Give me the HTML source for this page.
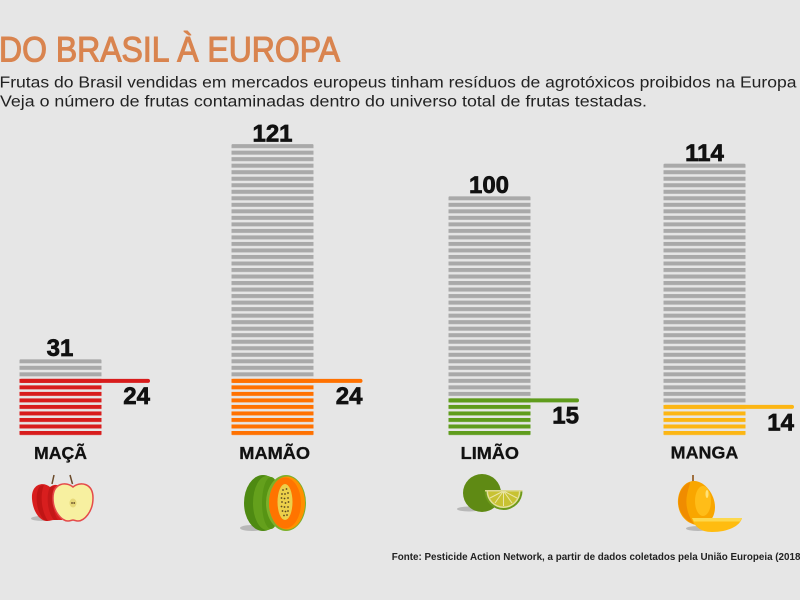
<!DOCTYPE html>
<html>
<head>
<meta charset="utf-8">
<style>
  html,body{margin:0;padding:0;background:#e6e6e6;}
  svg{display:block;}
  text{font-family:"Liberation Sans", sans-serif;}
</style>
</head>
<body>
<svg width="800" height="600" viewBox="0 0 800 600" xmlns="http://www.w3.org/2000/svg">
  <defs>
    <pattern id="pg" patternUnits="userSpaceOnUse" x="0" y="431" width="800" height="6.52">
      <rect x="0" y="0" width="800" height="4" fill="#a9a9a9"/>
    </pattern>
    <pattern id="pr" patternUnits="userSpaceOnUse" x="0" y="431" width="800" height="6.52">
      <rect x="0" y="0" width="800" height="4" fill="#d81c1c"/>
    </pattern>
    <pattern id="po" patternUnits="userSpaceOnUse" x="0" y="431" width="800" height="6.52">
      <rect x="0" y="0" width="800" height="4" fill="#ff7100"/>
    </pattern>
    <pattern id="pgr" patternUnits="userSpaceOnUse" x="0" y="431" width="800" height="6.52">
      <rect x="0" y="0" width="800" height="4" fill="#5f9c1c"/>
    </pattern>
    <pattern id="py" patternUnits="userSpaceOnUse" x="0" y="431" width="800" height="6.52">
      <rect x="0" y="0" width="800" height="4" fill="#fcb614"/>
    </pattern>
  </defs>

  <rect x="0" y="0" width="800" height="600" fill="#e6e6e6"/>

  <!-- Title -->
  <text x="-1" y="61.5" font-size="35" fill="#d9844f" stroke="#d9844f" stroke-width="1.1" textLength="341" lengthAdjust="spacingAndGlyphs">DO BRASIL À EUROPA</text>
  <text x="-0.5" y="87.5" font-size="15.5" fill="#222" textLength="797" lengthAdjust="spacingAndGlyphs">Frutas do Brasil vendidas em mercados europeus tinham resíduos de agrotóxicos proibidos na Europa</text>
  <text x="0" y="106.5" font-size="15.5" fill="#222" textLength="647" lengthAdjust="spacingAndGlyphs">Veja o número de frutas contaminadas dentro do universo total de frutas testadas.</text>

  <g font-size="24" font-weight="bold" fill="#111" stroke="#111" stroke-width="0.7">
    <text x="60" y="356" text-anchor="middle">31</text>
    <text x="150" y="404" text-anchor="end">24</text>
    <text x="272.5" y="141.7" text-anchor="middle">121</text>
    <text x="362.5" y="404" text-anchor="end">24</text>
    <text x="489" y="193" text-anchor="middle">100</text>
    <text x="579" y="423.3" text-anchor="end">15</text>
    <text x="704.5" y="161" text-anchor="middle">114</text>
    <text x="794" y="430.7" text-anchor="end">14</text>
  </g>

  <!-- Apple bar -->
  <rect x="19.5" y="359.08" width="82" height="18.5" rx="1.5" fill="url(#pg)"/>
  <rect x="19.5" y="377.58" width="82" height="58" rx="1.5" fill="url(#pr)"/>
  <rect x="19.5" y="378.84" width="130.5" height="4" rx="2" fill="#d81c1c"/>

  <!-- Papaya bar -->
  <rect x="231.5" y="143.92" width="82" height="233.66" rx="1.5" fill="url(#pg)"/>
  <rect x="231.5" y="377.58" width="82" height="58" rx="1.5" fill="url(#po)"/>
  <rect x="231.5" y="378.84" width="131" height="4" rx="2" fill="#ff7100"/>

  <!-- Lime bar -->
  <rect x="448.5" y="196.08" width="82" height="201.06" rx="1.5" fill="url(#pg)"/>
  <rect x="448.5" y="397.14" width="82" height="38.5" rx="1.5" fill="url(#pgr)"/>
  <rect x="448.5" y="398.4" width="130.5" height="4" rx="2" fill="#5f9c1c"/>

  <!-- Mango bar -->
  <rect x="663.5" y="163.48" width="82" height="240.18" rx="1.5" fill="url(#pg)"/>
  <rect x="663.5" y="403.66" width="82" height="32" rx="1.5" fill="url(#py)"/>
  <rect x="663.5" y="404.92" width="130.5" height="4" rx="2" fill="#fcb614"/>

  <!-- Labels -->
  <g font-size="17.5" font-weight="bold" fill="#111" stroke="#111" stroke-width="0.3">
    <text x="34" y="459" textLength="53" lengthAdjust="spacingAndGlyphs">MAÇÃ</text>
    <text x="239.3" y="459" textLength="70.7" lengthAdjust="spacingAndGlyphs">MAMÃO</text>
    <text x="460.7" y="459" textLength="58.3" lengthAdjust="spacingAndGlyphs">LIMÃO</text>
    <text x="670.7" y="458.5" textLength="67.6" lengthAdjust="spacingAndGlyphs">MANGA</text>
  </g>

  <!-- Apple icon -->
  <ellipse cx="42" cy="518.5" rx="11" ry="2.5" fill="#bcbcbc"/>
  <path d="M50,487 C43,481 31,484 32,499 C33,512 40,521 47,521 C50,521 52,520 54,520 L62,520 L62,488 C58,484 54,484 50,487 Z" fill="#d81e1e"/>
  <path d="M40,486 C35,492 35,510 44,520 L48,521 C41,511 40,494 44,485 Z" fill="#c01515"/>
  <path d="M50,487 C46,495 47,512 54,520 L58,520 C52,511 51,495 54,486 Z" fill="#c41818"/>
  <path d="M52,484 L54,475" stroke="#6b4a2a" stroke-width="1.5" fill="none"/>
  <path d="M72.5,484 L70,475" stroke="#6b4a2a" stroke-width="1.5" fill="none"/>
  <path d="M73,487 C66,481 53,483 53,498 C53,512 62,521 68,521 C70,521 72,520 73,520 C74,520 76,521 78,521 C84,521 93,512 93,498 C93,483 80,481 73,487 Z" fill="#f7f0a0" stroke="#e54a4a" stroke-width="1.5"/>
  <ellipse cx="73" cy="503" rx="3.5" ry="4.5" fill="#e6d878"/>
  <circle cx="72" cy="503" r="0.9" fill="#5a4020"/>
  <circle cx="74.2" cy="503" r="0.9" fill="#5a4020"/>

  <!-- Papaya icon -->
  <ellipse cx="252" cy="528" rx="12" ry="3" fill="#b8b8b8"/>
  <ellipse cx="263" cy="503" rx="19" ry="28" fill="#4e8a12"/>
  <ellipse cx="267" cy="503" rx="14" ry="27" fill="#64a01c"/>
  <ellipse cx="271" cy="503" rx="9" ry="26" fill="#579414"/>
  <ellipse cx="286" cy="503" rx="20" ry="28" fill="#7cb02a"/>
  <ellipse cx="287" cy="503" rx="18" ry="26.5" fill="#ff9000"/>
  <ellipse cx="285" cy="503" rx="16" ry="25.5" fill="#ff7400"/>
  <ellipse cx="285" cy="502" rx="7.5" ry="18" fill="#ecd04a"/>
  <g fill="#5a4820">
    <circle cx="283" cy="490" r="0.9"/><circle cx="286.5" cy="489" r="0.9"/>
    <circle cx="282" cy="494" r="0.9"/><circle cx="285" cy="494" r="0.9"/><circle cx="288" cy="493" r="0.9"/>
    <circle cx="281.5" cy="498" r="0.9"/><circle cx="284.5" cy="498.5" r="0.9"/><circle cx="288" cy="498" r="0.9"/>
    <circle cx="282" cy="502" r="0.9"/><circle cx="285.5" cy="503" r="0.9"/><circle cx="288.5" cy="502" r="0.9"/>
    <circle cx="281.5" cy="506.5" r="0.9"/><circle cx="284.5" cy="507" r="0.9"/><circle cx="288" cy="507" r="0.9"/>
    <circle cx="282.5" cy="511" r="0.9"/><circle cx="285.5" cy="511.5" r="0.9"/><circle cx="288" cy="511" r="0.9"/>
    <circle cx="284" cy="515.5" r="0.9"/><circle cx="287" cy="515" r="0.9"/>
  </g>

  <!-- Lime icon -->
  <ellipse cx="469" cy="509" rx="12" ry="2.5" fill="#b8b8b8"/>
  <circle cx="482" cy="493" r="19" fill="#5f8a14"/>
  <path d="M484.5,491 A19,19 0 0 0 522.5,491 Z" fill="#6e9a1a"/>
  <path d="M486.5,491 A17,17 0 0 0 520.5,491 Z" fill="#e4e09a"/>
  <path d="M488,491 A15.5,15.5 0 0 0 519,491 Z" fill="#c8c232"/>
  <g stroke="#ebe5a8" stroke-width="1" fill="none">
    <path d="M503.5,491 L490,498"/><path d="M503.5,491 L495,503"/><path d="M503.5,491 L503.5,506"/><path d="M503.5,491 L512,503"/><path d="M503.5,491 L517,498"/>
  </g>
  <rect x="485" y="490" width="37.5" height="1.5" fill="#dcd890"/>

  <!-- Mango icon -->
  <rect x="692" y="475" width="2" height="6.5" fill="#a07040"/>
  <ellipse cx="698" cy="528.5" rx="12" ry="2.5" fill="#b8b8b8"/>
  <path d="M693,481 C683,482 677,493 678,504 C679,515 686,523 696,525 C706,527 715,520 715,507 C715,494 704,480 693,481 Z" fill="#f9a600"/>
  <path d="M690,482 C681,486 677,496 679,507 C681,515 686,521 694,524 C688,516 685,505 687,495 C688,489 690,485 690,482 Z" fill="#f08c00"/>
  <ellipse cx="703" cy="501" rx="8" ry="15" fill="#ffbd18"/>
  <ellipse cx="707" cy="494" rx="1.5" ry="4" fill="#ffe27a"/>
  <path d="M692,518 L742,518 C740,526 728,532 712,532 C700,532 694,526 692,518 Z" fill="#ffbc10"/>
  <path d="M692,518 L742,518 L740,521.5 L694,521.5 Z" fill="#fcd84e"/>

  <!-- Footer -->
  <text x="391.7" y="560" font-size="10" font-weight="bold" fill="#222" textLength="412" lengthAdjust="spacingAndGlyphs">Fonte: Pesticide Action Network, a partir de dados coletados pela União Europeia (2018)</text>
</svg>
</body>
</html>
